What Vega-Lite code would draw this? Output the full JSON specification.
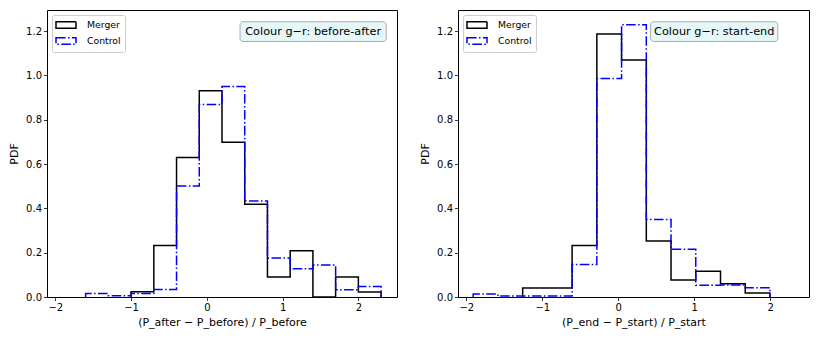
{
  "$schema": "https://vega.github.io/schema/vega-lite/v6.json",
  "padding": {"left": 8, "top": 9, "right": 10, "bottom": 5},
  "background": "white",
  "config": {
    "font": "DejaVu Sans",
    "view": {"stroke": "black", "strokeWidth": 1},
    "axis": {"domain": false, "grid": false, "tickSize": 3.5, "tickColor": "black", "tickWidth": 0.8, "labelFont": "DejaVu Sans", "labelFontSize": 10, "labelColor": "black", "labelPadding": 2, "titleFont": "DejaVu Sans", "titleFontSize": 11, "titleFontWeight": "normal", "titleColor": "black"},
    "axisY": {"titlePadding": 6},
    "axisX": {"titlePadding": 4},
    "legend": {"orient": "top-left", "offset": 5, "padding": 4, "fillColor": "white", "strokeColor": "#cccccc", "cornerRadius": 2, "labelFontSize": 9.3, "labelFont": "DejaVu Sans", "labelColor": "black", "symbolType": "M-2,-0.67H2V0.67H-2Z", "symbolSize": 100, "symbolStrokeWidth": 1.5, "symbolFillColor": "white", "symbolOffset": 4, "labelOffset": 15, "rowPadding": 2}
  },
  "datasets": {
    "left": [
      {"series": "Merger", "i": 0, "x": -1.0, "y": 0},
      {"series": "Merger", "i": 1, "x": -1.0, "y": 0.024},
      {"series": "Merger", "i": 2, "x": -0.7, "y": 0.232},
      {"series": "Merger", "i": 3, "x": -0.4, "y": 0.629},
      {"series": "Merger", "i": 4, "x": -0.1, "y": 0.931},
      {"series": "Merger", "i": 5, "x": 0.2, "y": 0.698},
      {"series": "Merger", "i": 6, "x": 0.5, "y": 0.418},
      {"series": "Merger", "i": 7, "x": 0.8, "y": 0.090},
      {"series": "Merger", "i": 8, "x": 1.1, "y": 0.209},
      {"series": "Merger", "i": 9, "x": 1.4, "y": 0},
      {"series": "Merger", "i": 10, "x": 1.7, "y": 0.090},
      {"series": "Merger", "i": 11, "x": 2.0, "y": 0.023},
      {"series": "Merger", "i": 12, "x": 2.3, "y": 0},
      {"series": "Control", "i": 0, "x": -1.6, "y": 0},
      {"series": "Control", "i": 1, "x": -1.6, "y": 0.016},
      {"series": "Control", "i": 2, "x": -1.3, "y": 0.006},
      {"series": "Control", "i": 3, "x": -1.0, "y": 0.016},
      {"series": "Control", "i": 4, "x": -0.7, "y": 0.034},
      {"series": "Control", "i": 5, "x": -0.4, "y": 0.501},
      {"series": "Control", "i": 6, "x": -0.1, "y": 0.869},
      {"series": "Control", "i": 7, "x": 0.2, "y": 0.950},
      {"series": "Control", "i": 8, "x": 0.5, "y": 0.433},
      {"series": "Control", "i": 9, "x": 0.8, "y": 0.176},
      {"series": "Control", "i": 10, "x": 1.1, "y": 0.128},
      {"series": "Control", "i": 11, "x": 1.4, "y": 0.144},
      {"series": "Control", "i": 12, "x": 1.7, "y": 0.033},
      {"series": "Control", "i": 13, "x": 2.0, "y": 0.047},
      {"series": "Control", "i": 14, "x": 2.3, "y": 0}
    ],
    "right": [
      {"series": "Merger", "i": 0, "x": -1.259, "y": 0},
      {"series": "Merger", "i": 1, "x": -1.259, "y": 0.041},
      {"series": "Merger", "i": 2, "x": -0.9335, "y": 0.041},
      {"series": "Merger", "i": 3, "x": -0.608, "y": 0.232},
      {"series": "Merger", "i": 4, "x": -0.2825, "y": 1.187},
      {"series": "Merger", "i": 5, "x": 0.043, "y": 1.069},
      {"series": "Merger", "i": 6, "x": 0.3685, "y": 0.253},
      {"series": "Merger", "i": 7, "x": 0.694, "y": 0.077},
      {"series": "Merger", "i": 8, "x": 1.0195, "y": 0.116},
      {"series": "Merger", "i": 9, "x": 1.345, "y": 0.060},
      {"series": "Merger", "i": 10, "x": 1.6705, "y": 0.018},
      {"series": "Merger", "i": 11, "x": 1.996, "y": 0},
      {"series": "Control", "i": 0, "x": -1.91, "y": 0},
      {"series": "Control", "i": 1, "x": -1.91, "y": 0.013},
      {"series": "Control", "i": 2, "x": -1.5845, "y": 0.004},
      {"series": "Control", "i": 3, "x": -1.259, "y": 0.004},
      {"series": "Control", "i": 4, "x": -0.9335, "y": 0.004},
      {"series": "Control", "i": 5, "x": -0.608, "y": 0.147},
      {"series": "Control", "i": 6, "x": -0.2825, "y": 0.986},
      {"series": "Control", "i": 7, "x": 0.043, "y": 1.229},
      {"series": "Control", "i": 8, "x": 0.3685, "y": 0.350},
      {"series": "Control", "i": 9, "x": 0.694, "y": 0.215},
      {"series": "Control", "i": 10, "x": 1.0195, "y": 0.053},
      {"series": "Control", "i": 11, "x": 1.345, "y": 0.054},
      {"series": "Control", "i": 12, "x": 1.6705, "y": 0.042},
      {"series": "Control", "i": 13, "x": 1.996, "y": 0}
    ]
  },
  "spacing": 21,
  "resolve": {"legend": {"stroke": "independent", "strokeDash": "independent"}},
  "hconcat": [
    {
      "width": 350,
      "height": 287,
      "layer": [
        {
          "data": {"name": "left"},
          "mark": {"type": "line", "interpolate": "step-after", "strokeWidth": 1.5},
          "encoding": {
            "x": {"field": "x", "type": "quantitative", "scale": {"domain": [-2.11, 2.51], "nice": false, "zero": false}, "axis": {"values": [-2, -1, 0, 1, 2], "format": "d", "title": "(P_after − P_before) / P_before"}},
            "y": {"field": "y", "type": "quantitative", "scale": {"domain": [0, 1.295], "nice": false}, "axis": {"values": [0, 0.2, 0.4, 0.6, 0.8, 1.0, 1.2], "format": ".1f", "title": "PDF"}},
            "stroke": {"field": "series", "type": "nominal", "scale": {"domain": ["Merger", "Control"], "range": ["black", "blue"]}, "legend": {"title": null}},
            "strokeDash": {"field": "series", "type": "nominal", "scale": {"domain": ["Merger", "Control"], "range": [[1, 0], [9.6, 2.4, 1.5, 2.4]]}, "legend": {"title": null}},
            "order": {"field": "i", "type": "quantitative"}
          }
        },
        {
          "data": {"values": [{"label": "Colour g−r: before-after"}]},
          "mark": {"type": "rect", "fill": "#e6f7f7", "stroke": "#999999", "strokeWidth": 0.8, "cornerRadius": 3},
          "encoding": {"x": {"datum": 0.438}, "x2": {"datum": 2.368}, "y": {"datum": 1.242}, "y2": {"datum": 1.153}}
        },
        {
          "data": {"values": [{"label": "Colour g−r: before-after"}]},
          "mark": {"type": "text", "fontSize": 11.3, "font": "DejaVu Sans", "align": "center", "baseline": "middle", "color": "black"},
          "encoding": {"x": {"datum": 1.403}, "y": {"datum": 1.197}, "text": {"field": "label"}}
        }
      ]
    },
    {
      "width": 351,
      "height": 287,
      "layer": [
        {
          "data": {"name": "right"},
          "mark": {"type": "line", "interpolate": "step-after", "strokeWidth": 1.5},
          "encoding": {
            "x": {"field": "x", "type": "quantitative", "scale": {"domain": [-2.11, 2.51], "nice": false, "zero": false}, "axis": {"values": [-2, -1, 0, 1, 2], "format": "d", "title": "(P_end − P_start) / P_start"}},
            "y": {"field": "y", "type": "quantitative", "scale": {"domain": [0, 1.295], "nice": false}, "axis": {"values": [0, 0.2, 0.4, 0.6, 0.8, 1.0, 1.2], "format": ".1f", "title": "PDF"}},
            "stroke": {"field": "series", "type": "nominal", "scale": {"domain": ["Merger", "Control"], "range": ["black", "blue"]}, "legend": {"title": null}},
            "strokeDash": {"field": "series", "type": "nominal", "scale": {"domain": ["Merger", "Control"], "range": [[1, 0], [9.6, 2.4, 1.5, 2.4]]}, "legend": {"title": null}},
            "order": {"field": "i", "type": "quantitative"}
          }
        },
        {
          "data": {"values": [{"label": "Colour g−r: start-end"}]},
          "mark": {"type": "rect", "fill": "#e6f7f7", "stroke": "#999999", "strokeWidth": 0.8, "cornerRadius": 3},
          "encoding": {"x": {"datum": 0.425}, "x2": {"datum": 2.10}, "y": {"datum": 1.242}, "y2": {"datum": 1.153}}
        },
        {
          "data": {"values": [{"label": "Colour g−r: start-end"}]},
          "mark": {"type": "text", "fontSize": 11.3, "font": "DejaVu Sans", "align": "center", "baseline": "middle", "color": "black"},
          "encoding": {"x": {"datum": 1.263}, "y": {"datum": 1.197}, "text": {"field": "label"}}
        }
      ]
    }
  ]
}
